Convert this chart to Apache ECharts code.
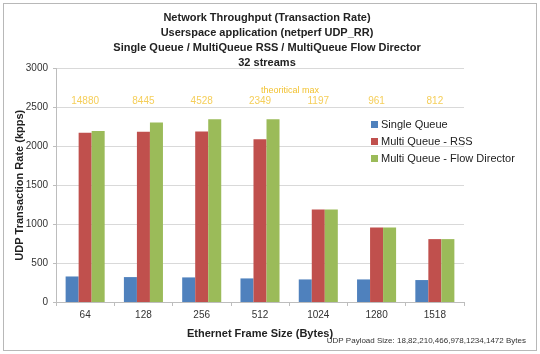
<!DOCTYPE html>
<html>
<head>
<meta charset="utf-8">
<script src="https://cdn.jsdelivr.net/npm/echarts@6/dist/echarts.min.js"></script>
<style>
  html, body { margin: 0; padding: 0; background: #fff; }
  #chart { position: absolute; left: 3px; top: 3px; width: 532px; height: 346px; border: 1px solid #b8b8b8; }
</style>
</head>
<body>
<div id="chart"></div>
<script>
const frameSizes = ['64', '128', '256', '512', '1024', '1280', '1518']
const singleQueue = [328, 320, 316, 303, 290, 290, 282]
const multiRss = [2175, 2188, 2192, 2092, 1190, 956, 808]
const multiFlowDirector = [2197, 2307, 2348, 2348, 1190, 956, 808]
const theoreticalMax = [14880, 8445, 4528, 2349, 1197, 961, 812]
const yTicks = [0, 500, 1000, 1500, 2000, 2500, 3000]

const chart = echarts.init(document.getElementById('chart'))
const font = 'Liberation Sans, Arial, sans-serif'
const colors = ['#4F81BD', '#C0504D', '#9BBB59']

chart.setOption({
  animation: false,
  textStyle: { fontFamily: font },
  title: {
    text: 'Network Throughput (Transaction Rate)\nUserspace application (netperf UDP_RR)\nSingle Queue / MultiQueue RSS / MultiQueue Flow Director\n32 streams',
    left: 258,
    top: 1,
    textAlign: 'center',
    textStyle: { fontSize: 11, fontWeight: 'bold', color: '#222', lineHeight: 15, fontFamily: font },
  },
  legend: {
    orient: 'vertical',
    left: 362,
    top: 110,
    itemWidth: 7,
    itemHeight: 7,
    itemGap: 6,
    icon: 'rect',
    textStyle: { fontSize: 11, color: '#222', padding: [0, 0, 0, -2] },
    data: ['Single Queue', 'Multi Queue - RSS', 'Multi Queue - Flow Director'],
  },
  grid: { left: 52, right: 72, top: 64.5, bottom: 48, outerBoundsMode: 'none', containLabel: false },
  xAxis: {
    type: 'category',
    data: frameSizes,
    name: 'Ethernet Frame Size (Bytes)',
    nameLocation: 'middle',
    nameGap: 26,
    nameMoveOverlap: false,
    nameTextStyle: { fontSize: 11, fontWeight: 'bold', color: '#222' },
    axisLine: { lineStyle: { color: '#bdbdbd' } },
    axisTick: { show: true, length: 4, lineStyle: { color: '#bdbdbd' } },
    axisLabel: { fontSize: 10, color: '#333', margin: 8 },
  },
  yAxis: {
    type: 'value',
    min: yTicks[0],
    max: yTicks[yTicks.length - 1],
    interval: 500,
    name: 'UDP Transaction Rate (kpps)',
    nameLocation: 'middle',
    nameGap: 31,
    nameMoveOverlap: false,
    nameTextStyle: { fontSize: 11, fontWeight: 'bold', color: '#222' },
    axisLine: { show: true, lineStyle: { color: '#bdbdbd' } },
    axisTick: { show: true, length: 3, lineStyle: { color: '#bdbdbd' } },
    axisLabel: { fontSize: 10, color: '#333', margin: 8, formatter: (v) => String(v) },
    splitLine: { lineStyle: { color: '#d9d9d9' } },
  },
  graphic: [
    {
      type: 'text',
      left: 257,
      top: 82,
      style: { text: 'theoritical max', fontSize: 9, fill: '#F2C230', fontFamily: font },
    },
    {
      type: 'text',
      right: 10,
      bottom: 5,
      style: { text: 'UDP Payload Size: 18,82,210,466,978,1234,1472 Bytes', fontSize: 8, fill: '#333', fontFamily: font },
    },
  ],
  series: [
    { name: 'Single Queue', type: 'bar', data: singleQueue, itemStyle: { color: colors[0] }, barGap: '0%', barCategoryGap: '33%' },
    { name: 'Multi Queue - RSS', type: 'bar', data: multiRss, itemStyle: { color: colors[1] }, barGap: '0%', barCategoryGap: '33%' },
    { name: 'Multi Queue - Flow Director', type: 'bar', data: multiFlowDirector, itemStyle: { color: colors[2] }, barGap: '0%', barCategoryGap: '33%' },
    {
      name: 'theoretical max',
      type: 'scatter',
      data: theoreticalMax.map((v) => ({ value: 2580, label: { formatter: String(v) } })),
      symbolSize: 0,
      silent: true,
      label: { show: true, position: 'inside', fontSize: 10, color: '#F2C230' },
    },
  ],
})
</script>
</body>
</html>
